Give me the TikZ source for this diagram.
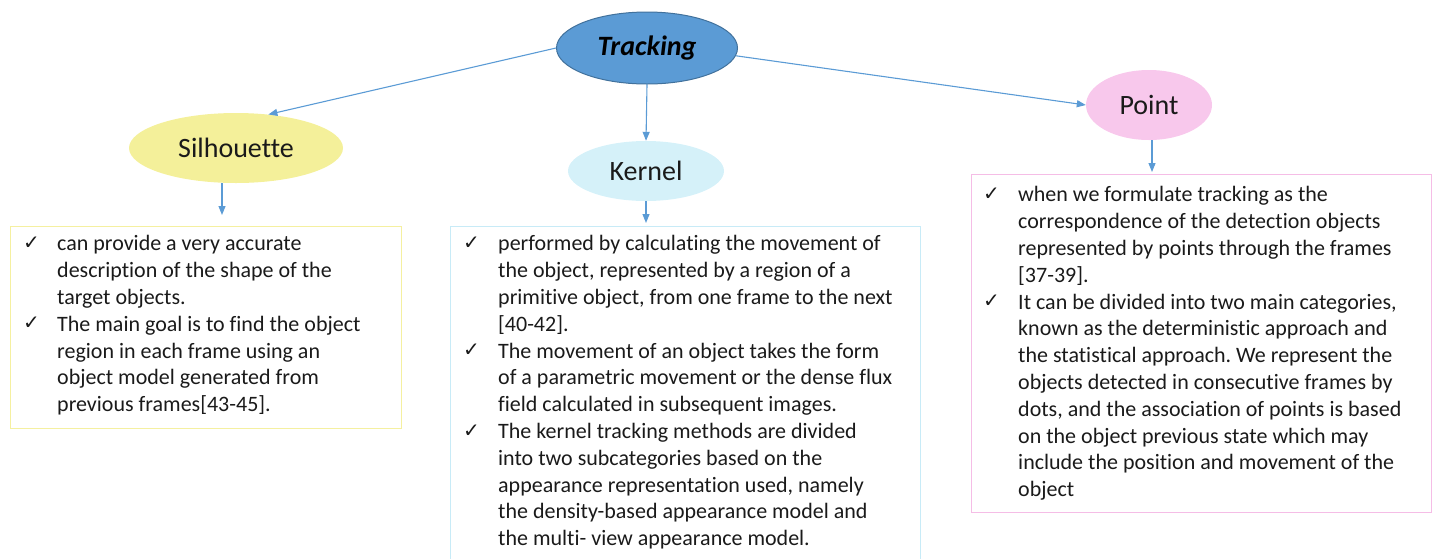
\documentclass[tikz,border=0pt]{standalone}
\usepackage{fontspec}
\setmainfont{Carlito}[Ligatures=NoCommon]
\newfontfamily\dejavu{DejaVu Sans}
\usetikzlibrary{shapes.geometric,arrows.meta}
\frenchspacing
\definecolor{trkfill}{HTML}{5B9BD5}
\definecolor{trkline}{HTML}{41719C}
\definecolor{silfill}{HTML}{F4F09A}
\definecolor{kerfill}{HTML}{D5F1F9}
\definecolor{ptfill}{HTML}{F8C8EC}
\definecolor{silbox}{HTML}{F5F0A0}
\definecolor{kerbox}{HTML}{C8EBF7}
\definecolor{ptbox}{HTML}{F5BDE6}
\definecolor{arrowc}{HTML}{5B9BD5}
\definecolor{txt}{HTML}{1A1A1A}
\newcommand{\chk}{{\dejavu\fontsize{20}{20}\selectfont\raisebox{1.5pt}{✓}}}
\tikzset{
  x=1pt,y=-1pt,
  oval/.style={ellipse, inner sep=0pt, text=txt, font=\fontsize{28}{30}\selectfont},
  listbox/.style={rectangle, line width=1pt, anchor=north west, inner sep=0pt},
  listtext/.style={anchor=north west, inner sep=0pt, text=txt, font=\fontsize{22}{26.8}\selectfont},
  arr/.style={draw=arrowc, line width=1.1pt, -{Triangle[length=9pt,width=7pt]}}
}
\begin{document}
\begin{tikzpicture}
\useasboundingbox (0,0) rectangle (1437,558);
% ellipses
\node[oval, fill=trkfill, draw=trkline, line width=1pt, minimum width=181pt, minimum height=72pt,
      font=\fontsize{28}{30}\selectfont\bfseries\itshape, text=black] (trk) at (647,48) {Tracking};
\node[oval, fill=silfill, minimum width=214pt, minimum height=70pt] (sil) at (236,148) {Silhouette};
\node[oval, fill=kerfill, minimum width=156pt, minimum height=60pt] (ker) at (646,171) {Kernel};
\node[oval, fill=ptfill, minimum width=126pt, minimum height=70pt] (pt) at (1149,105) {Point};
% boxes
\node[listbox, draw=silbox, minimum width=391pt, minimum height=202pt] (sbox) at (10,226) {};
\node[listbox, draw=kerbox, minimum width=470pt, minimum height=340pt] (kbox) at (450,226) {};
\node[listbox, draw=ptbox, minimum width=460pt, minimum height=338pt] (pbox) at (971,174) {};
% texts
\node[listtext] (stxt) at (23,232) {\begin{tabular}{@{}p{34pt}@{}l@{}}
\chk & can provide a very accurate\\
 & description of the shape of the\\
 & target objects.\\
\chk & The main goal is to find the object\\
 & region in each frame using an\\
 & object model generated from\\
 & previous frames[43-45].
\end{tabular}};
\node[listtext] (ktxt) at (463,232) {\begin{tabular}{@{}p{35pt}@{}l@{}}
\chk & performed by calculating the movement of\\
 & the object, represented by a region of a\\
 & primitive object, from one frame to the next\\
 & [40-42].\\
\chk & The movement of an object takes the form\\
 & of a parametric movement or the dense flux\\
 & field calculated in subsequent images.\\
\chk & The kernel tracking methods are divided\\
 & into two subcategories based on the\\
 & appearance representation used, namely\\
 & the density-based appearance model and\\
 & the multi- view appearance model.
\end{tabular}};
\node[listtext] (ptxt) at (983,183) {\begin{tabular}{@{}p{35pt}@{}l@{}}
\chk & when we formulate tracking as the\\
 & correspondence of the detection objects\\
 & represented by points through the frames\\
 & [37-39].\\
\chk & It can be divided into two main categories,\\
 & known as the deterministic approach and\\
 & the statistical approach. We represent the\\
 & objects detected in consecutive frames by\\
 & dots, and the association of points is based\\
 & on the object previous state which may\\
 & include the position and movement of the\\
 & object
\end{tabular}};
% connectors
\draw[arr] (trk.west) -- (sil.46);
\draw[arr] (trk.south) -- (ker.north);
\draw[arr] (trk.-5) -- (pt.west);
\coordinate (sa) at (222,215);
\coordinate (ka) at (646,223);
\coordinate (pa) at (1152,172);
\draw[arr] (sa |- sil.south) -- (sa);
\draw[arr] (ker.south) -- (ka);
\draw[arr] (pa |- pt.south) -- (pa);
\end{tikzpicture}
\end{document}
